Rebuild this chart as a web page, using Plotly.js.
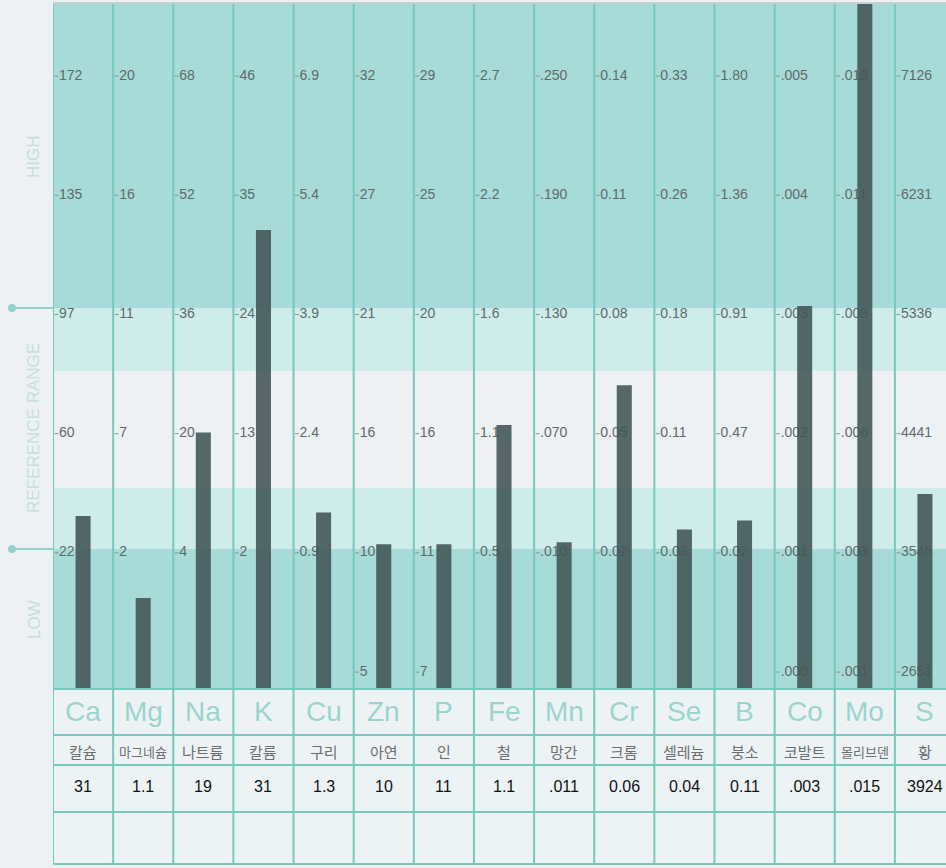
<!DOCTYPE html>
<html>
<head>
<meta charset="utf-8">
<script src="https://cdn.plot.ly/plotly-3.0.1.min.js"></script>
<style>
  html, body { margin: 0; padding: 0; background: #edf1f4; }
  #chart { width: 946px; height: 868px; }
</style>
</head>
<body>
<div id="chart"></div>
<script>
// ---------------- DATA ----------------
const elements = ["Ca","Mg","Na","K","Cu","Zn","P","Fe","Mn","Cr","Se","B","Co","Mo","S"];
const namesKo  = ["칼슘","마그네슘","나트륨","칼륨","구리","아연","인","철","망간","크롬","셀레늄","붕소","코발트","몰리브덴","황"];
const results  = ["31","1.1","19","31","1.3","10","11","1.1",".011","0.06","0.04","0.11",".003",".015","3924"];

// scale labels per level row (L5 = top, L0 = bottom); null = not printed
const scaleL5 = ["172","20","68","46","6.9","32","29","2.7",".250","0.14","0.33","1.80",".005",".013","7126"];
const scaleL4 = ["135","16","52","35","5.4","27","25","2.2",".190","0.11","0.26","1.36",".004",".011","6231"];
const scaleL3 = ["97","11","36","24","3.9","21","20","1.6",".130","0.08","0.18","0.91",".003",".008","5336"];
const scaleL2 = ["60","7","20","13","2.4","16","16","1.1",".070","0.05","0.11","0.47",".002",".006","4441"];
const scaleL1 = ["22","2","4","2","0.9","10","11","0.5",".010","0.02","0.03","0.02",".001",".003","3546"];
const scaleL0 = [null,null,null,null,null,"5","7",null,null,null,null,null,".000",".001","2651"];

const sideLabels = ["HIGH","REFERENCE RANGE","LOW"];

// ---------------- STYLE / GEOMETRY ----------------
const rows = [scaleL0, scaleL1, scaleL2, scaleL3, scaleL4, scaleL5];
const X_RANGE = [-0.5, 14.35];
const Y_RANGE = [-0.214, 5.541];
const BAND_HIGH = 2.982, BAND_LIGHT1 = 2.454, BAND_WHITE = 1.472, BAND_LOW = 0.961;
const LABEL_DROP = 0.072;
const DARK = "#a6dbd8", LIGHT = "#cdecea", WHITE = "#eef1f4";
const LINE = "#78c8be";
const TABLE_BOTTOM = -0.2551, ROW1 = -0.0671, ROW2 = -0.1108, ROW3 = -0.1793;
const SANS = "'Liberation Sans', Arial, sans-serif";

// value -> level position using each element's printed scale (piecewise linear)
function toLevel(i, v) {
  const pts = [];
  rows.forEach((r, L) => { if (r[i] !== null) pts.push([L, parseFloat(r[i])]); });
  if (pts[0][0] !== 0) pts.unshift([0, 0]);
  for (let k = 0; k < pts.length - 1; k++) {
    const a = pts[k], b = pts[k + 1];
    if (v <= b[1] || k === pts.length - 2) {
      return a[0] + (v - a[1]) / (b[1] - a[1]) * (b[0] - a[0]);
    }
  }
}

const xs = elements.map((_, i) => i);
const BASE = -0.4;
const barLen = results.map((r, i) => toLevel(i, parseFloat(r)) - BASE);

// scale labels as a text trace (drawn beneath the bars, which live on an overlaying subplot)
const tx = [], ty = [], tt = [];
rows.forEach((r, L) => {
  r.forEach((lab, i) => {
    if (lab === null) return;
    tx.push(i - 0.5 + 0.1); ty.push(L - LABEL_DROP); tt.push(lab);
  });
});

const traces = [
  {
    type: "scatter", mode: "text", x: tx, y: ty, text: tt,
    textposition: "middle right",
    textfont: { family: SANS, size: 14, color: "#5f6a6a" },
    xaxis: "x", yaxis: "y", hoverinfo: "skip", showlegend: false, cliponaxis: false
  },
  {
    type: "bar",
    x: xs,
    y: barLen,
    base: xs.map(() => BASE),
    width: 0.25,
    marker: { color: "rgb(68,88,88)", opacity: 0.9, line: { width: 0 } },
    xaxis: "x2", yaxis: "y2",
    hoverinfo: "skip",
    showlegend: false
  }
];

const shapes = [];
const annotations = [];

// background bands
[[BAND_HIGH, Y_RANGE[1], DARK], [BAND_LIGHT1, BAND_HIGH, LIGHT], [BAND_WHITE, BAND_LIGHT1, WHITE],
 [BAND_LOW, BAND_WHITE, LIGHT], [Y_RANGE[0], BAND_LOW, DARK]].forEach(b => {
  shapes.push({ type: "rect", layer: "below", xref: "paper", yref: "y", x0: 0, x1: 1, y0: b[0], y1: b[1],
    fillcolor: b[2], line: { width: 0 } });
});
// table background
shapes.push({ type: "rect", layer: "below", xref: "paper", yref: "paper", x0: 0, x1: 1, y0: TABLE_BOTTOM, y1: 0,
  fillcolor: "#edf3f5", line: { width: 0 } });
// column lines
for (let i = 0; i <= elements.length; i++) {
  shapes.push({ type: "line", layer: "below", xref: "x", yref: "paper", x0: i - 0.5, x1: i - 0.5,
    y0: TABLE_BOTTOM, y1: 1, line: { color: LINE, width: 2 } });
}
// table horizontal lines
[0, ROW1, ROW2, ROW3, TABLE_BOTTOM].forEach(y => {
  shapes.push({ type: "line", layer: "above", xref: "paper", yref: "paper", x0: 0, x1: 1, y0: y, y1: y,
    line: { color: LINE, width: 2 } });
});
// top border
shapes.push({ type: "line", layer: "above", xref: "paper", yref: "paper", x0: 0, x1: 1, y0: 1, y1: 1,
  line: { color: "#c4d2d2", width: 2 } });
// left markers at band boundaries
[BAND_HIGH, BAND_LOW].forEach(y => {
  shapes.push({ type: "line", xref: "paper", yref: "y", x0: -0.0459, x1: 0, y0: y, y1: y,
    line: { color: "#93d2c9", width: 2 } });
  shapes.push({ type: "circle", xref: "paper", yref: "y", x0: -0.0504, x1: -0.0414, y0: y - 0.034, y1: y + 0.034,
    fillcolor: "#93d2c9", line: { width: 0 } });
});
// tick dashes
rows.forEach((r, L) => {
  r.forEach((lab, i) => {
    if (lab === null) return;
    const y = L - LABEL_DROP;
    shapes.push({ type: "line", layer: "below", xref: "x", yref: "y", x0: i - 0.5 + 0.025, x1: i - 0.5 + 0.09, y0: y, y1: y,
      line: { color: "#7f9a98", width: 1 } });
  });
});

// table texts
elements.forEach((el, i) => {
  annotations.push({ xref: "x", yref: "paper", x: i, y: ROW1 / 2 + 0.001, text: el, showarrow: false,
    xanchor: "center", yanchor: "middle", font: { family: SANS, size: 28, color: "#9ad5cd" } });
  annotations.push({ xref: "x", yref: "paper", x: i, y: (ROW1 + ROW2) / 2 - 0.002, text: namesKo[i], showarrow: false,
    xanchor: "center", yanchor: "middle",
    font: { family: "'Noto Sans CJK KR', sans-serif", size: namesKo[i].length > 3 ? 13 : 15, color: "#6e6e6e" } });
  annotations.push({ xref: "x", yref: "paper", x: i, y: (ROW2 + ROW3) / 2 + 0.003, text: results[i], showarrow: false,
    xanchor: "center", yanchor: "middle", font: { family: SANS, size: 16, color: "#111111" } });
});

// side labels
[[sideLabels[0], 4.258], [sideLabels[1], 1.976], [sideLabels[2], 0.373]].forEach(s => {
  annotations.push({ xref: "paper", yref: "y", x: -0.0213, y: s[1], text: s[0], showarrow: false, textangle: -90,
    xanchor: "center", yanchor: "middle", font: { family: SANS, size: 17, color: "#c6dde1" } });
});

const axBase = { range: X_RANGE, visible: false, showgrid: false, zeroline: false, fixedrange: true };
const ayBase = { range: Y_RANGE, visible: false, showgrid: false, zeroline: false, fixedrange: true };

const layout = {
  width: 946, height: 868,
  margin: { l: 53, r: 0, t: 3, b: 179, pad: 0 },
  paper_bgcolor: "#edf1f4",
  plot_bgcolor: "rgba(0,0,0,0)",
  showlegend: false,
  xaxis: Object.assign({}, axBase),
  yaxis: Object.assign({}, ayBase),
  xaxis2: Object.assign({}, axBase, { overlaying: "x" }),
  yaxis2: Object.assign({}, ayBase, { overlaying: "y" }),
  shapes: shapes,
  annotations: annotations,
  hovermode: false
};

Plotly.newPlot("chart", traces, layout, { displayModeBar: false, staticPlot: true });
</script>
</body>
</html>
